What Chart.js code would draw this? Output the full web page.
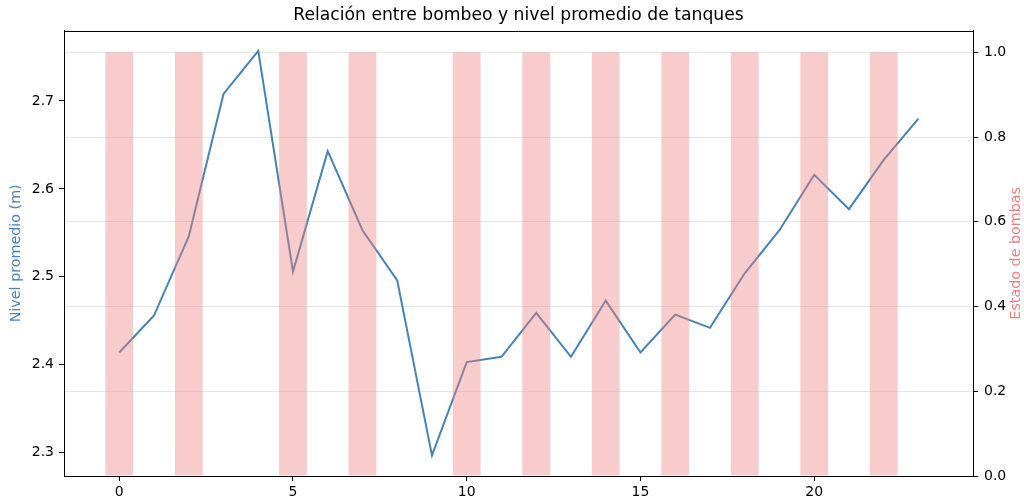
<!DOCTYPE html>
<html>
<head>
<meta charset="utf-8">
<script src="https://cdn.jsdelivr.net/npm/chart.js@4/dist/chart.umd.min.js"></script>
<style>
html,body{margin:0;padding:0;background:#fff;}
canvas{display:block;}
</style>
</head>
<body>
<canvas id="c" width="1024" height="501"></canvas>
<script>
const horas = [0,1,2,3,4,5,6,7,8,9,10,11,12,13,14,15,16,17,18,19,20,21,22,23];
const nivelPromedio = [2.414, 2.456, 2.546, 2.708, 2.757, 2.506, 2.643, 2.553, 2.496, 2.297, 2.403, 2.409, 2.459, 2.409, 2.473, 2.414, 2.457, 2.442, 2.504, 2.553, 2.616, 2.577, 2.633, 2.680];
const estadoBombas = [1,0,1,0,0,1,0,1,0,0,1,0,1,0,1,0,1,0,1,0,1,0,1,0];
const xTicks = [0,5,10,15,20];
const yTicksNivel = [2.3,2.4,2.5,2.6,2.7];
const yTicksBombas = [0,0.2,0.4,0.6,0.8,1.0];
const titulo = 'Relación entre bombeo y nivel promedio de tanques';
const tituloIzq = 'Nivel promedio (m)';
const tituloDer = 'Estado de bombas';

const FONT = '"DejaVu Sans", sans-serif';
const TICK_SIZE = 14;

const extras = {
  id: 'extras',
  afterDraw(chart) {
    const {ctx, chartArea: a} = chart;
    ctx.save();
    ctx.strokeStyle = '#000';
    ctx.lineWidth = 1;
    ctx.beginPath();
    ctx.moveTo(a.left, Math.round(a.top) + 0.5);
    ctx.lineTo(a.right, Math.round(a.top) + 0.5);
    ctx.stroke();
    ctx.font = '14.3px ' + FONT;
    ctx.textAlign = 'center';
    ctx.textBaseline = 'middle';
    const cy = (a.top + a.bottom) / 2;
    ctx.save();
    ctx.fillStyle = '#4682B4';
    ctx.translate(16.5, cy);
    ctx.rotate(-Math.PI / 2);
    ctx.fillText(tituloIzq, 0, 0);
    ctx.restore();
    ctx.save();
    ctx.fillStyle = '#F08080';
    ctx.translate(1016, cy);
    ctx.rotate(-Math.PI / 2);
    ctx.fillText(tituloDer, 0, 0);
    ctx.restore();
    ctx.restore();
  }
};

new Chart(document.getElementById('c'), {
  type: 'bar',
  data: {
    datasets: [
      {
        type: 'bar',
        label: tituloDer,
        data: horas.map((h, i) => ({x: h, y: estadoBombas[i]})),
        xAxisID: 'x',
        yAxisID: 'y1',
        backgroundColor: 'rgba(240,128,128,0.4)',
        borderWidth: 0,
        categoryPercentage: 1.0,
        barPercentage: 0.8,
        order: 1
      },
      {
        type: 'line',
        label: tituloIzq,
        data: horas.map((h, i) => ({x: h, y: nivelPromedio[i]})),
        xAxisID: 'x',
        yAxisID: 'y',
        borderColor: '#4682B4',
        borderWidth: 2,
        pointRadius: 0,
        tension: 0,
        fill: false,
        order: 2
      }
    ]
  },
  options: {
    responsive: false,
    devicePixelRatio: 1,
    animation: false,
    layout: {padding: 0},
    plugins: {
      legend: {display: false},
      tooltip: {enabled: false},
      title: {
        display: true,
        text: titulo,
        fullSize: false,
        color: '#000',
        font: {family: FONT, size: 17.2, weight: 'normal', lineHeight: 1.2},
        padding: {top: 5, bottom: 5}
      }
    },
    scales: {
      x: {
        type: 'linear',
        position: 'bottom',
        min: -1.59,
        max: 24.57,
        offset: false,
        afterBuildTicks: s => { s.ticks = xTicks.map(v => ({value: v})); },
        afterFit: s => { s.height = 25; },
        grid: {display: true, offset: false, drawOnChartArea: false, drawTicks: true, tickLength: 5, tickColor: '#000', tickWidth: 1},
        border: {display: true, color: '#000', width: 1},
        ticks: {color: '#000', font: {family: FONT, size: TICK_SIZE}, padding: 3, maxRotation: 0, callback: v => String(v)}
      },
      y: {
        type: 'linear',
        position: 'left',
        min: 2.2735,
        max: 2.780,
        afterBuildTicks: s => { s.ticks = yTicksNivel.map(v => ({value: v})); },
        afterFit: s => { s.width = 64; },
        grid: {display: true, drawOnChartArea: false, drawTicks: true, tickLength: 5, tickColor: '#000', tickWidth: 1},
        border: {display: true, color: '#000', width: 1},
        ticks: {color: '#000', font: {family: FONT, size: TICK_SIZE}, padding: 5, callback: v => Number(v).toFixed(1)}
      },
      y1: {
        type: 'linear',
        position: 'right',
        min: 0,
        max: 1.051,
        afterBuildTicks: s => { s.ticks = yTicksBombas.map(v => ({value: v})); },
        afterFit: s => { s.width = 51; },
        grid: {display: true, drawOnChartArea: true, color: '#e6e6e6', lineWidth: 1, drawTicks: true, tickLength: 5, tickColor: '#000', tickWidth: 1},
        border: {display: true, color: '#000', width: 1},
        ticks: {color: '#000', font: {family: FONT, size: TICK_SIZE}, padding: 6, callback: v => Number(v).toFixed(1)}
      }
    }
  },
  plugins: [extras]
});
</script>
</body>
</html>
